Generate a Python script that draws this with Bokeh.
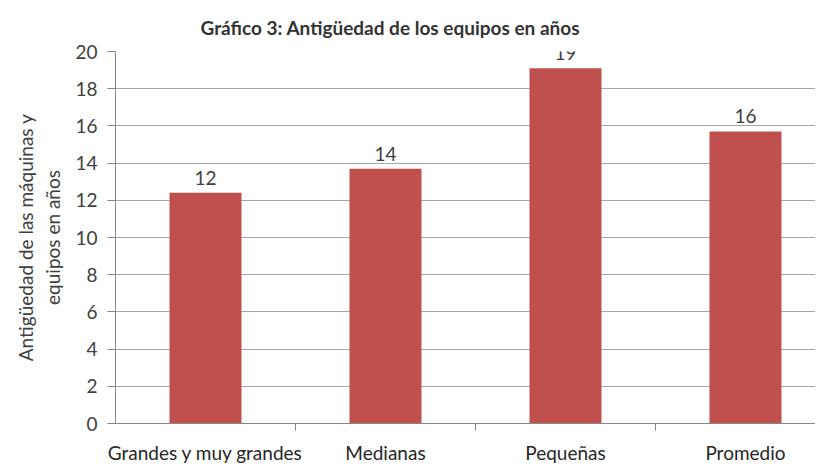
from bokeh.plotting import figure
from bokeh.models import ColumnDataSource, FixedTicker, Range1d, Title
from bokeh.core.properties import value
from bokeh.embed import file_html
from bokeh.resources import INLINE

categories = ["Grandes y muy grandes", "Medianas", "Pequeñas", "Promedio"]
antiguedad = [12.4, 13.7, 19.1, 15.7]
y_ticks = [0, 2, 4, 6, 8, 10, 12, 14, 16, 18, 20]
titulo = "Gráfico 3: Antigüedad de los equipos en años"
eje_y = "Antigüedad de las máquinas y\nequipos en años"

xpos = [i + 0.5 for i in range(len(categories))]
labels = [f"{v:.0f}" for v in antiguedad]
src = ColumnDataSource(dict(x=xpos, top=antiguedad, label=labels))

FONT = "Lato"
FS = "19px"
p = figure(width=815, height=466, output_backend="svg", toolbar_location=None,
           x_range=Range1d(0, 3.889), y_range=Range1d(0, 20),
           min_border_left=115, min_border_right=0, min_border_top=51, min_border_bottom=0)
p.outline_line_color = None
p.background_fill_color = "white"
p.border_fill_color = "white"

p.vbar(x="x", top="top", width=0.4, bottom=0, source=src,
       fill_color="#C0504D", line_color=None)
p.text(x="x", y="top", text="label", source=src, text_align="center",
       text_baseline="bottom", y_offset=-8, text_font=value(FONT),
       text_font_size=FS, text_color="#404040")

# spacer between frame and title
p.add_layout(Title(text=" ", text_font_size="10px", standoff=0), "above")
t = Title(text=titulo, text_font=FONT, text_font_size="19px", text_font_style="bold",
          text_color="#333333", align="left", offset=85, standoff=0)
p.add_layout(t, "above")

# y axis
p.yaxis.ticker = FixedTicker(ticks=y_ticks)
p.yaxis.axis_label = eje_y
p.yaxis.axis_label_text_font = FONT
p.yaxis.axis_label_text_font_size = FS
p.yaxis.axis_label_text_font_style = "normal"
p.yaxis.axis_label_text_color = "#404040"
p.yaxis.axis_label_standoff = 8
p.yaxis.major_label_text_font = FONT
p.yaxis.major_label_text_font_size = FS
p.yaxis.major_label_text_color = "#404040"
p.yaxis.major_tick_out = 8
p.yaxis.major_tick_in = 0
p.yaxis.minor_tick_line_color = None
p.yaxis.major_label_standoff = 10
p.yaxis.axis_line_color = "#868686"
p.yaxis.major_tick_line_color = "#868686"

# x axis
p.xaxis.ticker = FixedTicker(ticks=xpos, minor_ticks=[1, 2, 3])
p.xaxis.major_label_overrides = {x: c for x, c in zip(xpos, categories)}
p.xaxis.major_label_text_font = FONT
p.xaxis.major_label_text_font_size = FS
p.xaxis.major_label_text_color = "#262626"
p.xaxis.major_tick_line_color = None
p.xaxis.major_tick_out = 0
p.xaxis.major_tick_in = 0
p.xaxis.minor_tick_out = 7
p.xaxis.minor_tick_in = 0
p.xaxis.minor_tick_line_color = "#868686"
p.xaxis.major_label_standoff = 10
p.xaxis.axis_line_color = "#868686"

p.xgrid.grid_line_color = None
p.ygrid.ticker = FixedTicker(ticks=y_ticks)
p.ygrid.grid_line_color = "#A6A6A6"
p.ygrid.grid_line_width = 1

open("out.html", "w").write(file_html(p, INLINE))
